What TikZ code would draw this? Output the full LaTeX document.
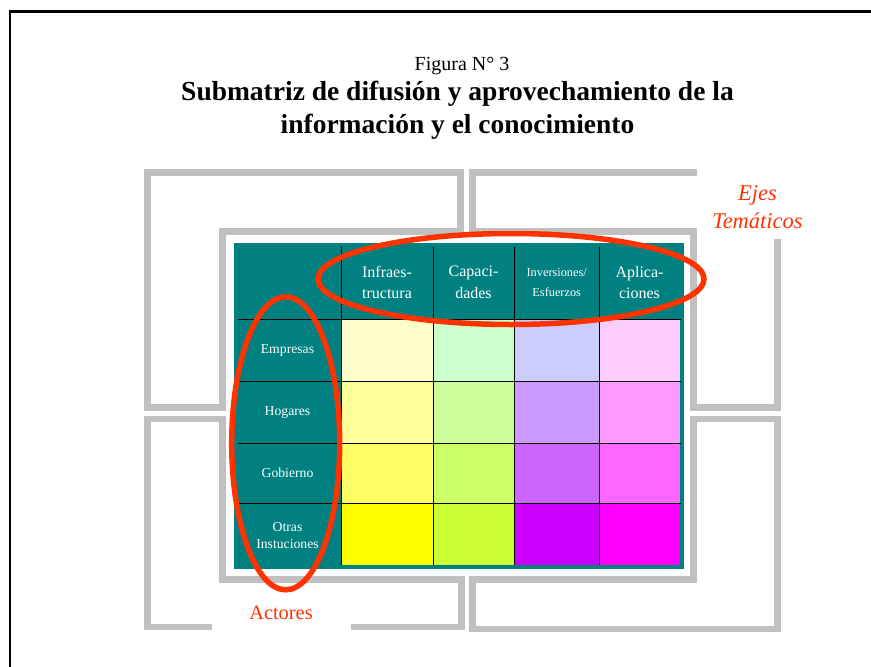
\documentclass[tikz,border=0pt]{standalone}
\usepackage{fontspec}
\setmainfont{Liberation Serif}
\definecolor{verdeazul}{HTML}{008080}
\definecolor{rojizo}{HTML}{FF3300}
\definecolor{gris}{HTML}{C0C0C0}
% colores de las celdas (columna, fila)
\definecolor{c11}{HTML}{FFFFCC}\definecolor{c12}{HTML}{FFFF99}\definecolor{c13}{HTML}{FFFF66}\definecolor{c14}{HTML}{FFFF00}
\definecolor{c21}{HTML}{CCFFCC}\definecolor{c22}{HTML}{CCFF99}\definecolor{c23}{HTML}{CCFF66}\definecolor{c24}{HTML}{CCFF33}
\definecolor{c31}{HTML}{CCCCFF}\definecolor{c32}{HTML}{CC99FF}\definecolor{c33}{HTML}{CC66FF}\definecolor{c34}{HTML}{CC00FF}
\definecolor{c41}{HTML}{FFCCFF}\definecolor{c42}{HTML}{FF99FF}\definecolor{c43}{HTML}{FF66FF}\definecolor{c44}{HTML}{FF00FF}
\tikzset{
  marco/.style={gris,line width=6.5pt},
  rejilla/.style={black,line width=0.9pt},
  ovalo/.style={rojizo,line width=5.5pt},
  cabeza/.style={text=white,align=center,inner sep=0pt,font=\fontsize{16}{21.7}\selectfont},
  fila/.style={text=white,align=center,inner sep=0pt,font=\fontsize{13.7}{17.3}\selectfont},
  rotulo/.style={rojizo,align=center,inner sep=0pt},
}
\begin{document}
\begin{tikzpicture}[x=1pt,y=-1pt]
    \useasboundingbox (0,0) rectangle (871,667);
    \draw[line width=2.5pt](10,667)--(10,11.3)--(871,11.3);%borde
    \node[font=\fontsize{20}{24}\selectfont] (figura) at (462,66) {Figura N° 3};
    \node[align=center,inner sep=0pt,font=\fontsize{27.5}{33}\bfseries] (titulo) at (457.5,110) {Submatriz de difusión y aprovechamiento de la\\información y el conocimiento};
    %marcos grises
    \draw[marco](147.5,172.7)--(460.5,172.7)--(460.5,231.5)--(222.5,231.5)--(222.5,407.5)--(147.5,407.5)--cycle;
    \draw[marco](472.5,172.7)--(777.5,172.7)--(777.5,407.5)--(693.5,407.5)--(693.5,231.5)--(472.5,231.5)--cycle;
    \draw[marco](147.5,419)--(222.5,419)--(222.5,579.5)--(461.5,579.5)--(461.5,627)--(147.5,627)--cycle;
    \draw[marco](693.5,419)--(777.5,419)--(777.5,629)--(472.5,629)--(472.5,579.5)--(693.5,579.5)--cycle;
    %matriz
    \fill[verdeazul](234,243)rectangle(684,569);
    \foreach \i/\xa/\xb in {1/341/433,2/433/514,3/514/599,4/599/680}
      \foreach \j/\ya/\yb in {1/319/381,2/381/443,3/443/503,4/503/565}
        \fill[c\i\j](\xa,\ya)rectangle(\xb,\yb);
    \foreach \xa in {341,433,514,599}
      \draw[rejilla](\xa,247)--(\xa,565);
    \foreach \ya in {319,381,443,503}
      \draw[rejilla](237.5,\ya)--(681,\ya);
    \node[cabeza] (infra) at (387,282.5) {Infraes-\\tructura};
    \node[cabeza] (capac) at (473.5,282.5) {Capaci-\\dades};
    \node[cabeza,font=\fontsize{12.3}{20}\selectfont] (inver) at (556.7,282) {Inversiones/\\Esfuerzos};
    \node[cabeza] (aplic) at (639.5,282.5) {Aplica-\\ciones};
    \node[fila] (empresas) at (287.5,350.5) {Empresas};
    \node[fila] (hogares) at (287.5,412.5) {Hogares};
    \node[fila] (gobierno) at (287.5,472.5) {Gobierno};
    \node[fila] (otras) at (287.5,535.5) {Otras\\Instuciones};
    %rotulos
    \fill[white](697,165)rectangle(815,238.5);
    \fill[white](212,596)rectangle(351,631.5);
    \node[rotulo,font=\fontsize{22.5}{28}\itshape] (ejes) at (757.5,207.5) {Ejes\\Temáticos};
    \node[rotulo,font=\fontsize{20.4}{24}\selectfont] (actores) at (281,613) {Actores};
    \draw[ovalo](511,279)ellipse[x radius=193pt,y radius=45.5pt];
    \draw[ovalo](285.7,443.3)ellipse[x radius=54pt,y radius=146.5pt];
  \end{tikzpicture}
\end{document}
